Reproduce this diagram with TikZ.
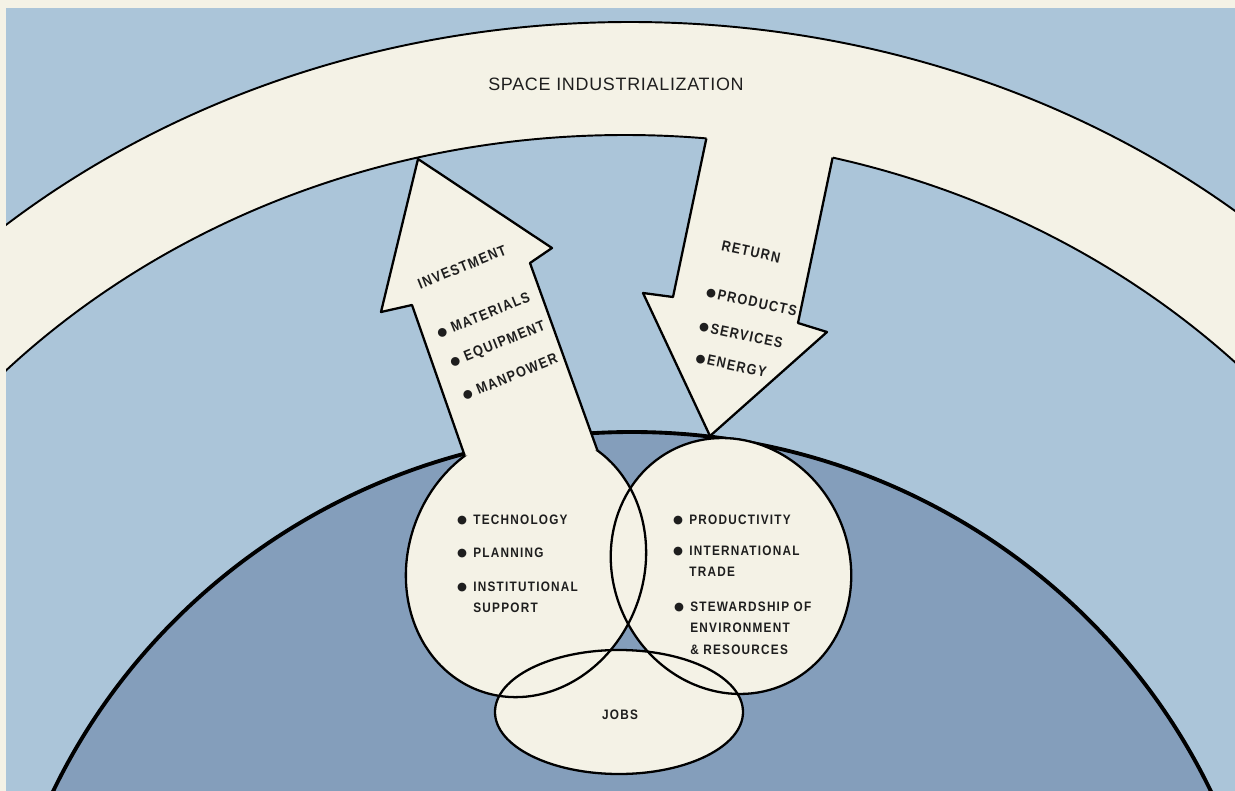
\documentclass[tikz,border=0pt]{standalone}
\usepackage{fontspec}
\setmainfont{Liberation Sans}
\newfontfamily\labelfont[FakeStretch=0.86,LetterSpace=9]{Liberation Sans}
\newfontfamily\titlefont[LetterSpace=4]{Liberation Sans}
\newfontfamily\dotfont{DejaVu Sans}
\usetikzlibrary{intersections}
\definecolor{cream}{HTML}{F4F2E6}
\definecolor{sky}{HTML}{ABC5D9}
\definecolor{earth}{HTML}{849EBB}
\definecolor{ink}{HTML}{1E1E1E}
% a large round bullet and a hanging variant for list items
\newcommand\blob{{\dotfont\fontsize{6.5}{8}\selectfont\raisebox{0.5pt}{●}}}
\newcommand\itemdot{\llap{\blob\hspace{3.5pt}}}
\begin{document}
\begin{tikzpicture}[x=0.02cm, y=-0.02cm, line join=round,
  arcline/.style={draw=black, line width=1.1pt},
  outlinestyle/.style={draw=black, line width=1.3pt},
  globeline/.style={draw=black, line width=2.2pt},
  lab/.style={font=\labelfont\bfseries\fontsize{7.8}{9}\selectfont, inner sep=0pt, text=ink},
  tiltlab/.style={lab, font=\labelfont\bfseries\fontsize{8.4}{10}\selectfont},
  titlestyle/.style={font=\titlefont\fontsize{10.2}{12}\selectfont, inner sep=0pt, text=ink}]
\useasboundingbox (0,0) rectangle (1235,791);
\fill[cream] (0,0) rectangle (1235,791);
\fill[sky] (6,8) rectangle (1235,791);

% the band of space industrialization and the globe below it
\begin{scope}
  \clip (6,8) rectangle (1235,791);
  \path[name path global=outerarc, fill=cream, arcline] (630,847) ellipse [x radius=950, y radius=825];
  \path[name path global=innerarc, fill=sky, arcline] (625,905) ellipse [x radius=860, y radius=770];
  \path[name path global=globe, fill=earth, globeline] (632,1059) ellipse [x radius=640, y radius=627];
\end{scope}

% return arrow, coming down out of the band
\path[name path global=retL] (673,297) -- (720.7,70);
\path[name path global=retR] (798,323) -- (851,70);
\path[name intersections={of=retL and innerarc, sort by=retL, by={rL}}];
\path[name intersections={of=retR and innerarc, sort by=retR, by={rR}}];
\fill[cream] (720.7,70) -- (673,297) -- (643,293) -- (710,436) -- (827,332) -- (798,323) -- (851,70) -- cycle;
\draw[outlinestyle] (rL) -- (673,297) -- (643,293) -- (710,436) -- (827,332) -- (798,323) -- (rR);

% the three overlapping regions
\path[name path global=ellL, fill=cream, rotate around={-20:(526,564)}] (526,564) ellipse [x radius=118, y radius=135];
\path[fill=cream, rotate around={25:(731,566)}] (731,566) ellipse [x radius=118, y radius=130];
\path[fill=cream] (619,712) ellipse [x radius=124, y radius=62];
\path[outlinestyle, rotate around={-20:(526,564)}] (526,564) ellipse [x radius=118, y radius=135];
\path[outlinestyle, rotate around={25:(731,566)}] (731,566) ellipse [x radius=118, y radius=130];
\path[outlinestyle] (619,712) ellipse [x radius=124, y radius=62];

% investment arrow, rising out of the left region
\path[name path global=invL] (412,305) -- (482,505);
\path[name path global=invR] (530,263) -- (620,513);
\path[name intersections={of=invL and ellL, sort by=invL, by={iL}}];
\path[name intersections={of=invR and ellL, sort by=invR, by={iR}}];
\fill[cream] (iL) -- (412,305) -- (381,312) -- (418,159) -- (552,248) -- (530,263) -- (iR) -- cycle;
\draw[outlinestyle] (iL) -- (412,305) -- (381,312) -- (418,159) -- (552,248) -- (530,263) -- (iR);

% labels
\node[titlestyle] (title) at (616,84) {SPACE INDUSTRIALIZATION};

\node[tiltlab, rotate=22] (investment) at (462,267) {INVESTMENT};
\node[tiltlab, rotate=22, anchor=west] (materials) at (437,334) {\blob\hspace{3pt}MATERIALS};
\node[tiltlab, rotate=22, anchor=west] (equipment) at (450.5,364) {\blob\hspace{3pt}EQUIPMENT};
\node[tiltlab, rotate=22, anchor=west] (manpower) at (462.5,396) {\blob\hspace{3pt}MANPOWER};

\node[tiltlab, rotate=-12] (return) at (751,252) {RETURN};
\node[tiltlab, rotate=-12, anchor=west] (products) at (706,292) {\blob\hspace{1pt}PRODUCTS};
\node[tiltlab, rotate=-12, anchor=west] (services) at (699,326) {\blob\hspace{1pt}SERVICES};
\node[tiltlab, rotate=-12, anchor=west] (energy) at (695.5,357.6) {\blob\hspace{1pt}ENERGY};

\node[lab, anchor=base west] (technology) at (473,524) {\itemdot TECHNOLOGY};
\node[lab, anchor=base west] (planning) at (473,557.7) {\itemdot PLANNING};
\node[lab, anchor=base west] (institutional) at (473,591) {\itemdot INSTITUTIONAL};
\node[lab, anchor=base west] (support) at (473,612.7) {SUPPORT};

\node[lab, anchor=base west] (productivity) at (689,524) {\itemdot PRODUCTIVITY};
\node[lab, anchor=base west] (international) at (689,555) {\itemdot INTERNATIONAL};
\node[lab, anchor=base west] (trade) at (689,576.7) {TRADE};
\node[lab, anchor=base west] (stewardship) at (690,611.7) {\itemdot STEWARDSHIP OF};
\node[lab, anchor=base west] (environment) at (690,632.3) {ENVIRONMENT};
\node[lab, anchor=base west] (resources) at (690,654.3) {\&\ RESOURCES};

\node[lab] (jobs) at (620,715) {JOBS};
\end{tikzpicture}
\end{document}
